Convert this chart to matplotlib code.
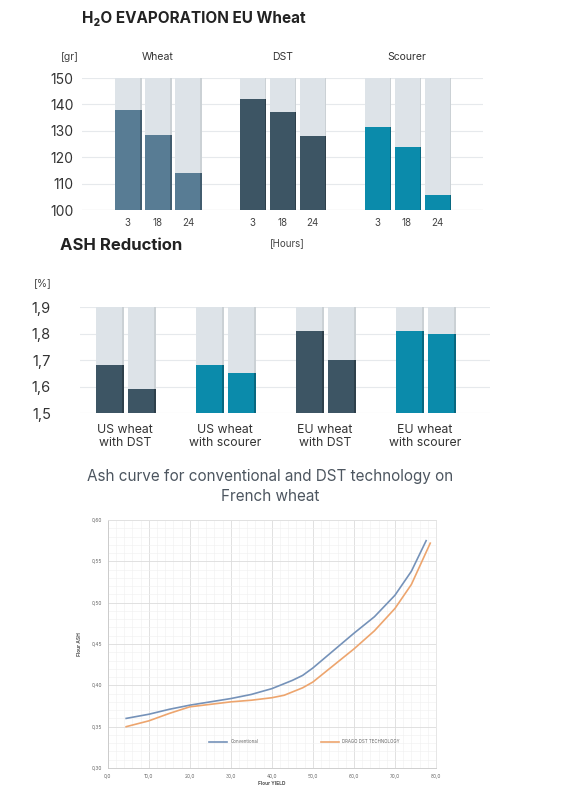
import matplotlib.pyplot as plt
from matplotlib.ticker import MultipleLocator

plt.rcParams['font.family'] = ['Inter', 'DejaVu Sans']

# -------------------------------
# data
# -------------------------------
evap_groups = ['Wheat', 'DST', 'Scourer']
evap_hours = ['3', '18', '24']
evap_wheat = [138, 128.5, 114]
evap_dst = [142, 137, 128]
evap_scourer = [131.5, 124, 105.5]
evap_ticks = [100, 110, 120, 130, 140, 150]

ash_groups = ['US wheat\nwith DST', 'US wheat\nwith scourer', 'EU wheat\nwith DST', 'EU wheat\nwith scourer']
ash_values = [[1.68, 1.59], [1.68, 1.65], [1.81, 1.70], [1.81, 1.80]]
ash_ticks = [1.5, 1.6, 1.7, 1.8, 1.9]
ash_tick_labels = ['1,5', '1,6', '1,7', '1,8', '1,9']

conv_x = [4.5, 10, 15, 20, 25, 30, 35, 40, 45, 47.5, 50, 55, 60, 65, 70, 74, 77.6]
conv_y = [0.360, 0.365, 0.371, 0.376, 0.380, 0.384, 0.389, 0.396, 0.406, 0.412,
          0.421, 0.442, 0.463, 0.483, 0.509, 0.538, 0.575]
dst_x = [4.5, 10, 15, 20, 25, 30, 35, 40, 43, 45, 47.5, 50, 55, 60, 65, 70, 74, 78.6]
dst_y = [0.350, 0.357, 0.366, 0.374, 0.377, 0.380, 0.382, 0.385, 0.388, 0.392,
         0.397, 0.404, 0.424, 0.444, 0.466, 0.493, 0.522, 0.572]
yield_ticks = [0, 10, 20, 30, 40, 50, 60, 70, 80]
ash_curve_ticks = [0.30, 0.35, 0.40, 0.45, 0.50, 0.55, 0.60]

# colours
C_WHEAT = '#587c94'
C_DARK = '#3d5564'
C_TEAL = '#0b8bab'
C_BG = '#dde3e8'


def darker(c, f=0.75):
    r, g, b = [int(c[i:i + 2], 16) / 255 for i in (1, 3, 5)]
    return (r * f, g * f, b * f)


def shaded_bar(ax, x, top, base, w, color, f=0.75):
    # small shadow on the right edge, like the original graphic
    ax.bar(x + 0.05, top - base, w, bottom=base, color=darker(color, f), zorder=2)
    ax.bar(x, top - base, w, bottom=base, color=color, zorder=3)


W, H = 561, 794
fig = plt.figure(figsize=(W / 100, H / 100), dpi=100)

# -------------------------------
# 1. H2O evaporation
# -------------------------------
ax1 = fig.add_axes([82 / W, 1 - 210 / H, 401 / W, 132 / H])
gap1 = 4.15
bw1 = 0.83
series = [evap_wheat, evap_dst, evap_scourer]
colors1 = [C_WHEAT, C_DARK, C_TEAL]
for g, vals in enumerate(series):
    for i, v in enumerate(vals):
        x = g * gap1 + i
        shaded_bar(ax1, x, 150, 100, bw1, C_BG, 0.92)
        shaded_bar(ax1, x, v, 100, bw1, colors1[g])
        ax1.text(x, 97, evap_hours[i], ha='center', va='top', fontsize=7, color='#444444')
    ax1.text(g * gap1 + 1, 158, evap_groups[g], ha='center', va='center', fontsize=7.5, color='#333333')
ax1.text(-1.95, 158, '[gr]', ha='center', va='center', fontsize=7.5, color='#444444')

ax1.set_ylim(100, 150)
ax1.set_xlim(-1.53, 11.83)
ax1.set_yticks(evap_ticks)
ax1.set_yticklabels([str(t) for t in evap_ticks], fontsize=10, color='#333333')
ax1.tick_params(axis='y', length=0, pad=6)
ax1.set_xticks([])
ax1.grid(axis='y', color='#e6e9ec', linewidth=0.8, zorder=0)
ax1.set_axisbelow(True)
for s in ax1.spines.values():
    s.set_visible(False)
ax1.axhline(100, color='#cfd4d8', linewidth=0.8, zorder=1)

fig.text(82 / W, 1 - 18 / H, 'H₂O EVAPORATION EU Wheat', fontsize=11, fontweight='bold',
         color='#222222', va='center', ha='left')
fig.text(287 / W, 1 - 243 / H, '[Hours]', fontsize=7, color='#444444', va='center', ha='center')

# -------------------------------
# 2. ASH reduction
# -------------------------------
ax2 = fig.add_axes([80 / W, 1 - 413 / H, 410 / W, 106 / H])
gap2 = 3.125
bw2 = 0.81
colors2 = [C_DARK, C_TEAL, C_DARK, C_TEAL]
for g, vals in enumerate(ash_values):
    for i, v in enumerate(vals):
        x = g * gap2 + i
        shaded_bar(ax2, x, 1.9, 1.5, bw2, C_BG, 0.92)
        shaded_bar(ax2, x, v, 1.5, bw2, colors2[g])
    ax2.text(g * gap2 + 0.5, 1.457, ash_groups[g], ha='center', va='top', fontsize=8.8,
             color='#333333', linespacing=1.1)

ax2.set_ylim(1.5, 1.9)
ax2.set_xlim(-0.906, 11.906)
ax2.set_yticks(ash_ticks)
ax2.set_yticklabels(ash_tick_labels, fontsize=10.5, color='#333333')
ax2.tick_params(axis='y', length=0, pad=21)
ax2.set_xticks([])
ax2.grid(axis='y', color='#e6e9ec', linewidth=0.8, zorder=0)
ax2.set_axisbelow(True)
for s in ax2.spines.values():
    s.set_visible(False)

fig.text(60 / W, 1 - 245 / H, 'ASH Reduction', fontsize=12, fontweight='bold',
         color='#222222', va='center', ha='left')
fig.text(43 / W, 1 - 283 / H, '[%]', fontsize=7.5, color='#444444', va='center', ha='center')

# -------------------------------
# 3. Ash curve
# -------------------------------
fig.text(270 / W, 1 - 476 / H, 'Ash curve for conventional and DST technology on',
         fontsize=11, color='#4d5660', ha='center', va='center')
fig.text(270 / W, 1 - 497 / H, 'French wheat',
         fontsize=11, color='#4d5660', ha='center', va='center')

ax3 = fig.add_axes([107.7 / W, 1 - 768 / H, 328.3 / W, 248 / H])
ax3.plot(conv_x, conv_y, color='#7592b9', linewidth=1.2, label='Conventional')
ax3.plot(dst_x, dst_y, color='#eda56e', linewidth=1.2, label='DRAGO DST TECHNOLOGY')
ax3.set_xlim(0, 80)
ax3.set_ylim(0.30, 0.60)
ax3.set_xticks(yield_ticks)
ax3.set_xticklabels([f'{t:.1f}'.replace('.', ',') for t in yield_ticks])
ax3.set_yticks(ash_curve_ticks)
ax3.set_yticklabels([f'{t:.2f}'.replace('.', ',') for t in ash_curve_ticks])
ax3.xaxis.set_minor_locator(MultipleLocator(2))
ax3.yaxis.set_minor_locator(MultipleLocator(0.01))
ax3.tick_params(which='both', length=0, labelsize=3.5, colors='#666666', pad=4)
ax3.grid(which='major', color='#dcdcdc', linewidth=0.6)
ax3.grid(which='minor', color='#f0f0f0', linewidth=0.4)
ax3.set_axisbelow(True)
for s in ax3.spines.values():
    s.set_color('#e2e2e2')
    s.set_linewidth(0.6)
ax3.spines['left'].set_color('#c8c8c8')
ax3.spines['bottom'].set_color('#c8c8c8')
ax3.set_xlabel('Flour YIELD', fontsize=3.5, fontweight='bold', color='#555555', labelpad=2)
ax3.set_ylabel('Flour ASH', fontsize=3.5, fontweight='bold', color='#555555', labelpad=7)
ax3.legend(loc='lower center', bbox_to_anchor=(0.6, 0.08), ncol=2, frameon=False,
           fontsize=3.2, handlelength=4, columnspacing=14, labelcolor='#666666')

fig.savefig('out.png', dpi=100)
